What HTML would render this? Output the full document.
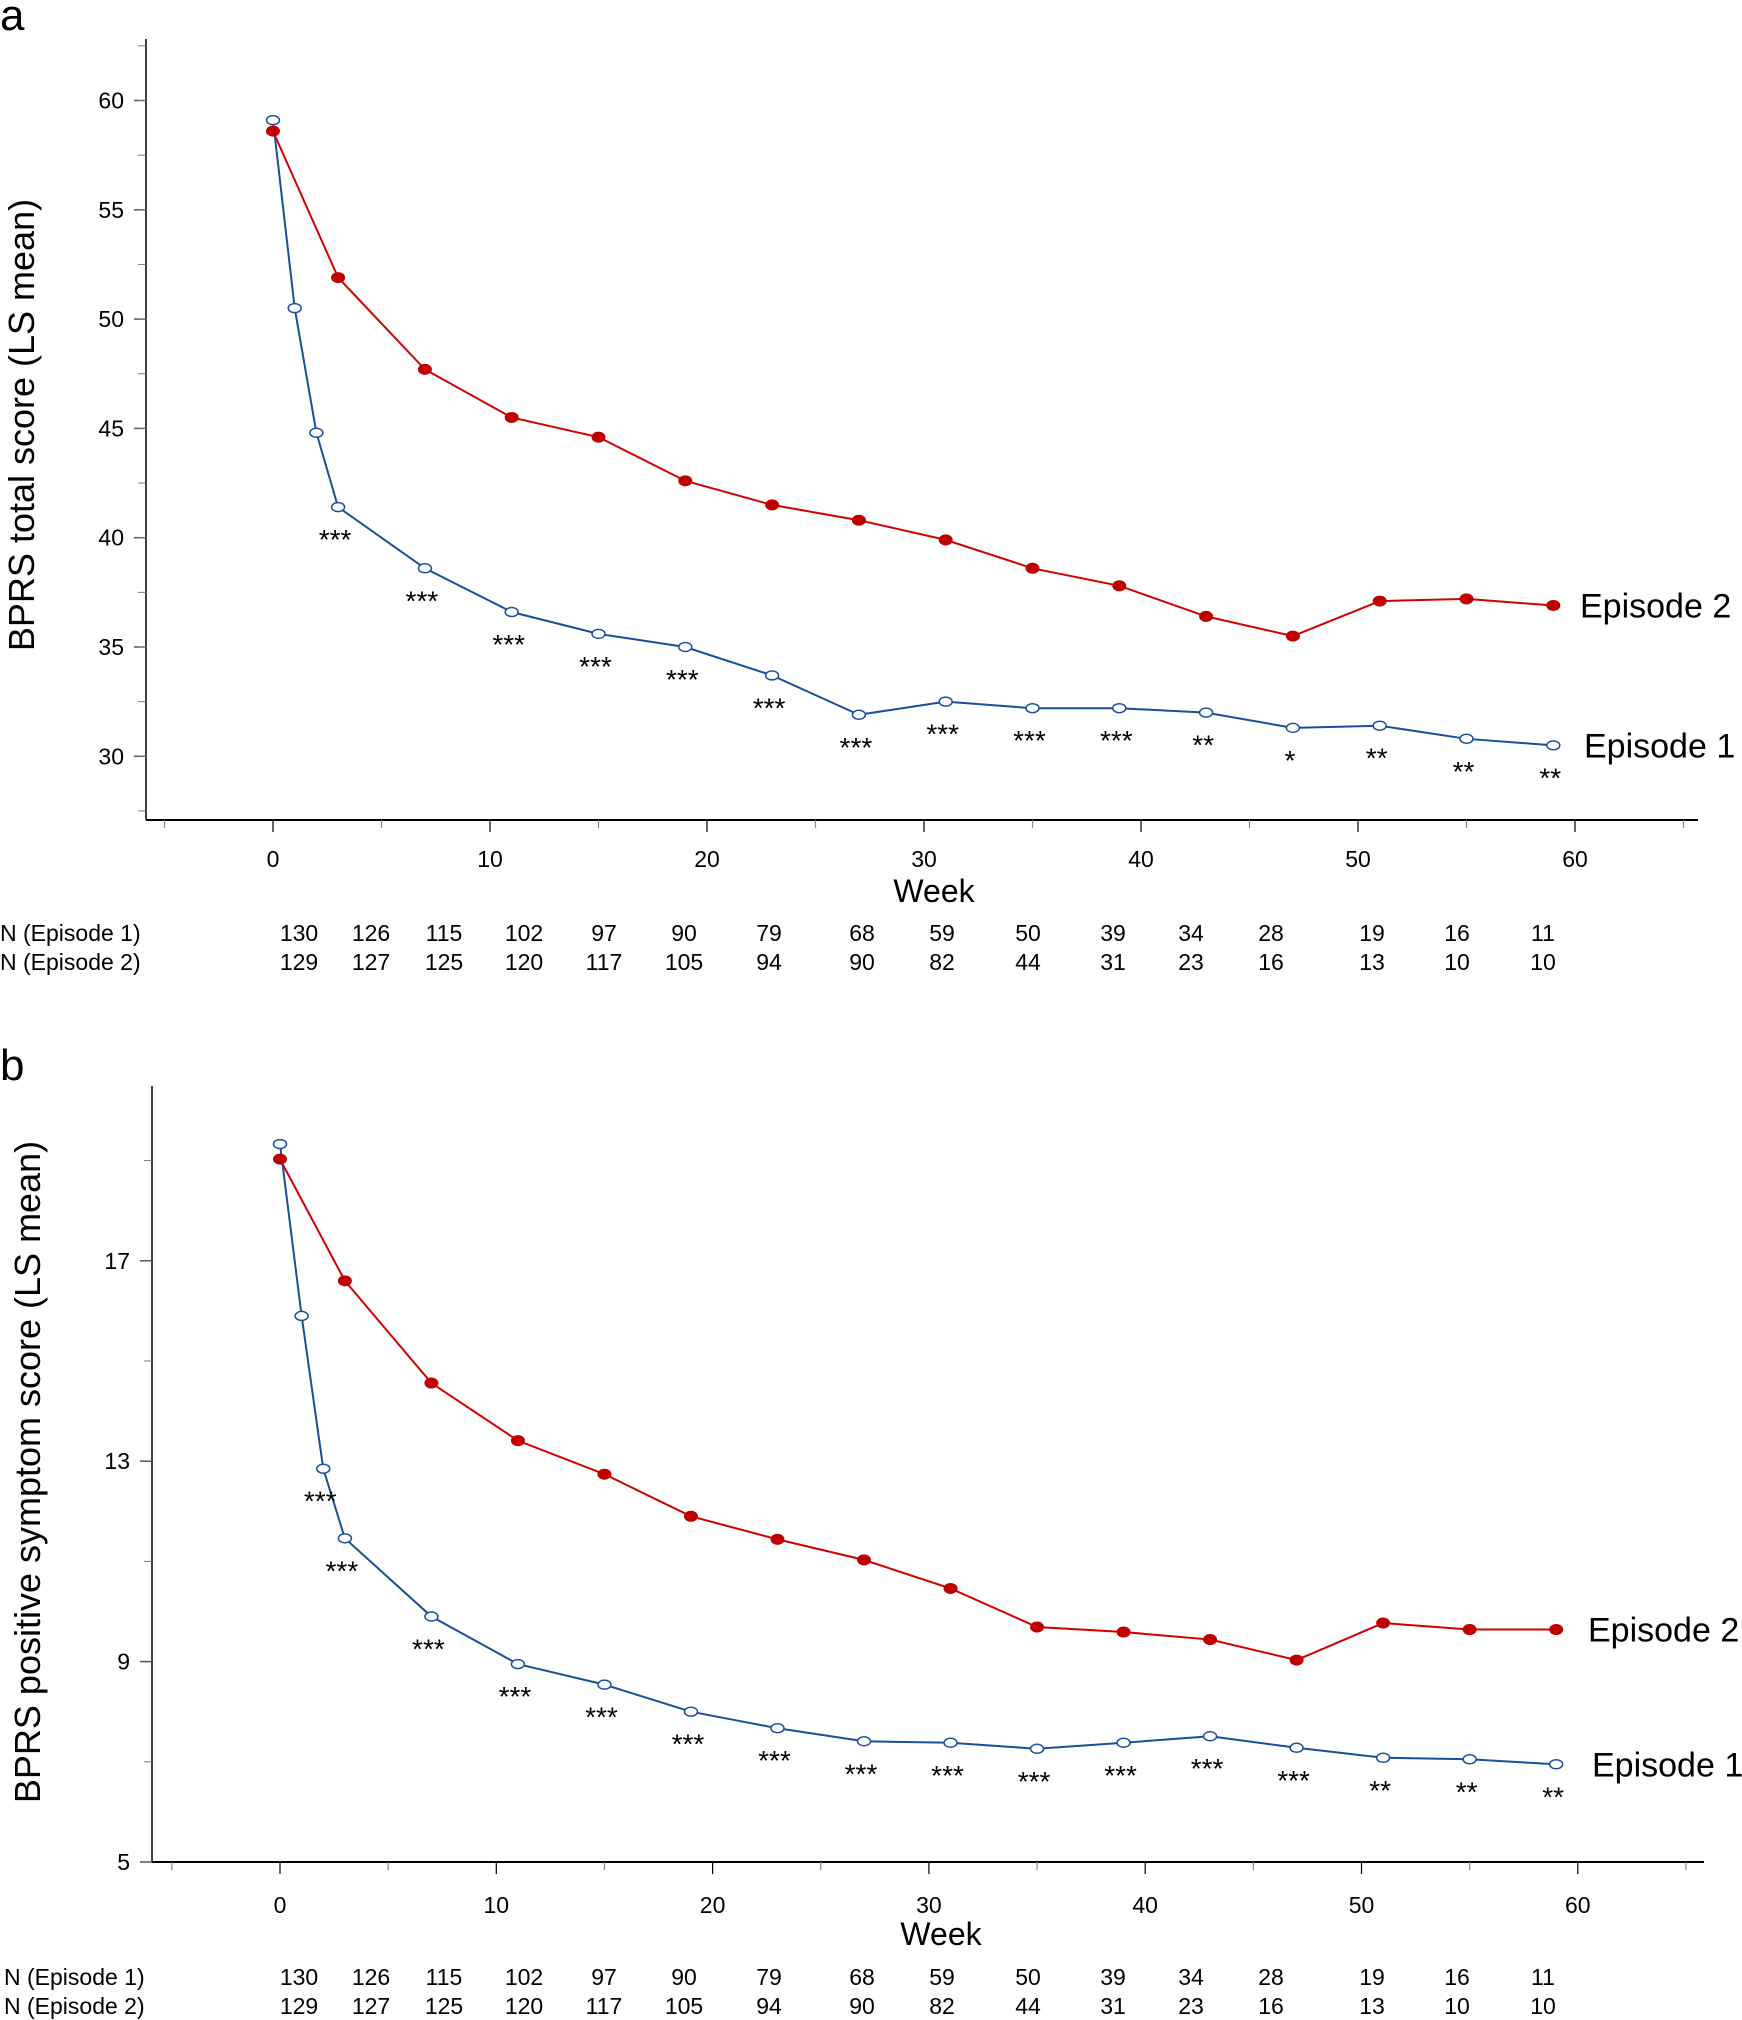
<!DOCTYPE html>
<html><head><meta charset="utf-8"><style>
html,body{margin:0;padding:0;background:#fff}
svg{display:block;font-family:"Liberation Sans",Arial,sans-serif}
</style></head><body>
<svg id="fig" width="1742" height="2020" viewBox="0 0 1742 2020" xmlns="http://www.w3.org/2000/svg"></svg>
<script>
// ---- Data ----
const weeksE1 = [0,1,2,3,7,11,15,19,23,27,31,35,39,43,47,51,55,59];
const weeksE2 = [0,3,7,11,15,19,23,27,31,35,39,43,47,51,55,59];
const totalE1 = [59.1,50.5,44.8,41.4,38.6,36.6,35.6,35.0,33.7,31.9,32.5,32.2,32.2,32.0,31.3,31.4,30.8,30.5];
const totalE2 = [58.6,51.9,47.7,45.5,44.6,42.6,41.5,40.8,39.9,38.6,37.8,36.4,35.5,37.1,37.2,36.9];
const totalStarWeeks = [3,7,11,15,19,23,27,31,35,39,43,47,51,55,59];
const totalStars = ["***","***","***","***","***","***","***","***","***","***","**","*","**","**","**"];
const posE1 = [19.33,15.9,12.85,11.46,9.9,8.95,8.54,8.0,7.67,7.41,7.38,7.26,7.38,7.51,7.28,7.08,7.05,6.95];
const posE2 = [19.03,16.6,14.56,13.41,12.74,11.9,11.44,11.03,10.46,9.69,9.59,9.44,9.03,9.77,9.64,9.64];
const posStarWeeks = [2,3,7,11,15,19,23,27,31,35,39,43,47,51,55,59];
const posStars = ["***","***","***","***","***","***","***","***","***","***","***","***","***","**","**","**"];
const nE1 = [130,126,115,102,97,90,79,68,59,50,39,34,28,19,16,11];
const nE2 = [129,127,125,120,117,105,94,90,82,44,31,23,16,13,10,10];
const totalYTicks = [30,35,40,45,50,55,60];
const posYTicks = [5,9,13,17];
const xTicks = [0,10,20,30,40,50,60];

const NS = "http://www.w3.org/2000/svg";
const svg = document.getElementById('fig');
function mk(tag, attrs, parent, text){
  const e = document.createElementNS(NS, tag);
  for (const k in attrs) e.setAttribute(k, attrs[k]);
  if (text !== undefined) e.textContent = text;
  (parent||svg).appendChild(e);
  return e;
}
const nXs = [299,371,444,524,604,684,769,862,942,1028,1113,1191,1271,1372,1457,1543];

function panel(p){
  const g = mk('g', {});
  
  
  const X = w => p.x0 + w * p.xs;
  const Y = v => p.yRef - (v - p.vRef) * p.ys;
  const letter = mk('text', {x:0, y:p.letterY, 'font-size':44}, g, p.letter);
  
  
  const ya = mk('line', {x1:p.ax, y1:p.axTop, x2:p.ax, y2:p.axBot, stroke:'#000', 'stroke-width':1.5}, g);
  
  
  const xa = mk('line', {x1:p.ax, y1:p.axBot, x2:p.axRight, y2:p.axBot, stroke:'#000', 'stroke-width':2}, g);
  
  
  p.yTicks.forEach(v => {
    mk('line', {x1:p.ax-12, y1:Y(v), x2:p.ax, y2:Y(v), stroke:'#555', 'stroke-width':1.5}, g);
    const t = mk('text', {x:p.ax-22, y:Y(v)+8, 'font-size':23, 'text-anchor':'end'}, g, String(v));
    
    
  });
  for (let v = p.minorStart; Y(v) > p.axTop; v += p.minorStep){
    mk('line', {x1:p.ax-8, y1:Y(v), x2:p.ax, y2:Y(v), stroke:'#777', 'stroke-width':1}, g);
  }
  for (let w = -5; w <= 65; w += 5){
    const major = w % 10 === 0;
    mk('line', {x1:X(w), y1:p.axBot, x2:X(w), y2:p.axBot+(major?12:8), stroke:major?'#000':'#888', 'stroke-width':1.2}, g);
  }
  xTicks.forEach(w => {
    const t = mk('text', {x:X(w), y:p.xLabY, 'font-size':23, 'text-anchor':'middle'}, g, String(w));
    
    
  });
  const wk = mk('text', {x:p.weekX, y:p.weekY, 'font-size':32, 'text-anchor':'middle'}, g, 'Week');
  
  
  const yt = mk('text', {x:0, y:0, 'font-size':36, 'text-anchor':'middle', transform:`translate(${p.ytX},${p.ytY}) rotate(-90)`}, g, p.yTitle);
  
  
  const pts2 = p.w2.map((w,i)=>X(w)+','+Y(p.v2[i])).join(' ');
  const l2 = mk('polyline', {points:pts2, fill:'none', stroke:'#d00000', 'stroke-width':2}, g);
  
  
  const pts1 = p.w1.map((w,i)=>X(w)+','+Y(p.v1[i])).join(' ');
  const l1 = mk('polyline', {points:pts1, fill:'none', stroke:'#1a4f9a', 'stroke-width':2}, g);
  
  
  p.w2.forEach((w,i)=>{
    const c = mk('ellipse', {cx:X(w), cy:Y(p.v2[i]), rx:6.5, ry:5, fill:'#c00000', stroke:'#c00000'}, g);
    
    
  });
  p.w1.forEach((w,i)=>{
    const c = mk('ellipse', {cx:X(w), cy:Y(p.v1[i]), rx:6.5, ry:4.5, fill:'#fff', stroke:'#1a4f9a', 'stroke-width':1.5}, g);
    
    
  });
  p.sw.forEach((w,i)=>{
    const idx = p.w1.indexOf(w);
    const t = mk('text', {x:X(w)-3, y:Y(p.v1[idx])+p.starOff, 'font-size':28, 'text-anchor':'middle'}, g, p.st[i]);
    
    
  });
  const e2 = mk('text', {x:p.legX, y:Y(p.v2[p.v2.length-1])+12, 'font-size':34}, g, 'Episode 2');
  
  
  const e1 = mk('text', {x:p.legX+4, y:Y(p.v1[p.v1.length-1])+12, 'font-size':34}, g, 'Episode 1');
  
  
  [['N (Episode 1)', nE1, p.nY1], ['N (Episode 2)', nE2, p.nY2]].forEach((row, r) => {
    const lab = mk('text', {x:p.nLabX, y:row[2], 'font-size':23}, g, row[0]);
    
    
    row[1].forEach((n,i)=>{
      const t = mk('text', {x:nXs[i], y:row[2], 'font-size':23, 'text-anchor':'middle'}, g, String(n));
      
      
    });
  });
}

panel({name:'panel-a-total-score', letter:'a', letterY:30,
  x0:273, xs:21.7, yRef:100.5, vRef:60, ys:21.86,
  ax:146, axTop:39, axBot:820, axRight:1698,
  yTicks:totalYTicks, minorStart:27.5, minorStep:2.5,
  xLabY:867, weekX:934, weekY:902, ytX:34, ytY:425,
  yTitle:'BPRS total score (LS mean)',
  w1:weeksE1, v1:totalE1, w2:weeksE2, v2:totalE2, sw:totalStarWeeks, st:totalStars, starOff:42,
  legX:1580, nLabX:0, nY1:941, nY2:970});

panel({name:'panel-b-positive-symptom-score', letter:'b', letterY:1080,
  x0:280, xs:21.63, yRef:1862, vRef:5, ys:50.1,
  ax:152, axTop:1086, axBot:1862, axRight:1704,
  yTicks:posYTicks, minorStart:7, minorStep:4,
  xLabY:1913, weekX:941, weekY:1945, ytX:40, ytY:1472,
  yTitle:'BPRS positive symptom score (LS mean)',
  w1:weeksE1, v1:posE1, w2:weeksE2, v2:posE2, sw:posStarWeeks, st:posStars, starOff:42,
  legX:1588, nLabX:4, nY1:1985, nY2:2014});
</script>
</body></html>
